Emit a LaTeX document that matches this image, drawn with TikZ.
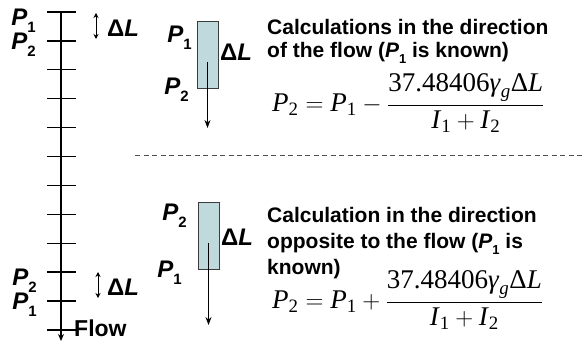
\documentclass[tikz,border=0pt]{standalone}
\usepackage{amsmath}
\usepackage{fontspec}
\setmainfont{Liberation Serif}
\setsansfont{Liberation Sans}
\usetikzlibrary{arrows.meta}

\definecolor{pipeFill}{RGB}{191,217,221}
\definecolor{pipeLine}{RGB}{60,60,60}
\definecolor{dashGray}{RGB}{80,80,80}

\newcommand{\plab}[1]{\textit{P}\raisebox{-0.3em}{\fontsize{15}{15}\selectfont #1}}
\newcommand{\hlab}[1]{\textit{P}\raisebox{-0.3em}{\fontsize{13}{13}\selectfont #1}}
\newcommand{\vitl}[1]{\text{\textit{#1}}}
\newcommand{\vrom}[1]{\text{#1}}

\begin{document}
\begin{tikzpicture}[
  x=1pt, y=-1pt,
  font=\sffamily\bfseries,
  axis/.style={line width=1.3pt},
  tick/.style={line width=1.3pt},
  plabel/.style={font=\sffamily\bfseries\fontsize{24}{24}\selectfont, inner sep=0pt},
  pipe/.style={draw=pipeLine, fill=pipeFill, line width=0.9pt, minimum width=21pt, minimum height=67pt, inner sep=0pt},
  flowarrow/.style={line width=1pt, -{Stealth[length=8pt,width=6pt]}},
  dlarrow/.style={line width=1pt, {Stealth[length=5pt,width=5pt]}-{Stealth[length=5pt,width=5pt]}},
  heading/.style={font=\sffamily\bfseries\fontsize{21}{23}\selectfont, align=left, inner sep=0pt},
  formula/.style={font=\rmfamily\fontsize{27}{27}\selectfont, inner sep=0pt}
]
\useasboundingbox (0,0) rectangle (585,342);

% Left axis with segments
\coordinate (axTop) at (61,12);
\coordinate (axEnd) at (61,341);
\draw[axis, -{Stealth[length=7pt,width=6pt]}] (axTop) -- (axEnd);
\foreach \i in {0,...,11} {
    \draw[tick] (47,{12+\i*28.9}) -- (76,{12+\i*28.9});
}

% Top segment labels
\node[plabel, anchor=east] (axP1top) at (36,21) {\plab{1}};
\node[plabel, anchor=east] (axP2top) at (36,45) {\plab{2}};
\coordinate (dTopA) at (96,13);
\coordinate (dTopB) at (96,39);
\draw[dlarrow] (dTopA) -- (dTopB);
\node[plabel, anchor=west] (dlTop) at (107,28) {Δ\textit{L}};

% Bottom segment labels
\node[plabel, anchor=east] (axP2bot) at (37,281) {\plab{2}};
\node[plabel, anchor=east] (axP1bot) at (37,305) {\plab{1}};
\coordinate (dBotA) at (98,272);
\coordinate (dBotB) at (98,298);
\draw[dlarrow] (dBotA) -- (dBotB);
\node[plabel, anchor=west] (dlBot) at (107,287) {Δ\textit{L}};
\node[plabel, font=\sffamily\bfseries\fontsize{23}{23}\selectfont, anchor=west] (flowLbl) at (74,328) {Flow};

% Segment, direction of the flow
\node[pipe] (pipeA) at (207.5,55) {};
\coordinate (pipeAEnd) at (207.5,128);
\draw[flowarrow] ([yshift=-7pt]pipeA.center) -- (pipeAEnd);
\node[plabel, anchor=east] (pipeAP1) at (192,38) {\plab{1}};
\node[plabel, anchor=east] (pipeAP2) at (189,90) {\plab{2}};
\node[plabel, anchor=west] (pipeADL) at (220,52) {Δ\textit{L}};

% Separator
\coordinate (sepL) at (135,155);
\coordinate (sepR) at (585,155);
\draw[dashGray, line width=1pt, dash pattern=on 5pt off 3.5pt] (sepL) -- (sepR);

% Segment, against the flow
\node[pipe] (pipeB) at (208.5,235.5) {};
\coordinate (pipeBEnd) at (208.5,325);
\draw[flowarrow] ([yshift=-7pt]pipeB.center) -- (pipeBEnd);
\node[plabel, anchor=east] (pipeBP2) at (187,216) {\plab{2}};
\node[plabel, anchor=east] (pipeBP1) at (182,273) {\plab{1}};
\node[plabel, anchor=west] (pipeBDL) at (221,237) {Δ\textit{L}};

% Text and equations
\node[heading, anchor=north west] (headA) at (267,19) {Calculations in the direction\\of the flow (\hlab{1} is known)};
\node[formula, anchor=west] (eqA) at (272,103) {$\vitl{P}_{\vrom{2}} = \vitl{P}_{\vrom{1}} - \dfrac{\vrom{37.48406}\vitl{γ}_{\vitl{g}}\vrom{Δ}\vitl{L}}{\vitl{I}_{\vrom{1}}+\vitl{I}_{\vrom{2}}}$};

\node[heading, font=\sffamily\bfseries\fontsize{21}{26}\selectfont, anchor=north west] (headB) at (267,207) {Calculation in the direction\\opposite to the flow (\hlab{1} is\\known)};
\node[formula, anchor=west] (eqB) at (272,300) {$\vitl{P}_{\vrom{2}} = \vitl{P}_{\vrom{1}} + \dfrac{\vrom{37.48406}\vitl{γ}_{\vitl{g}}\vrom{Δ}\vitl{L}}{\vitl{I}_{\vrom{1}}+\vitl{I}_{\vrom{2}}}$};

\end{tikzpicture}
\end{document}
